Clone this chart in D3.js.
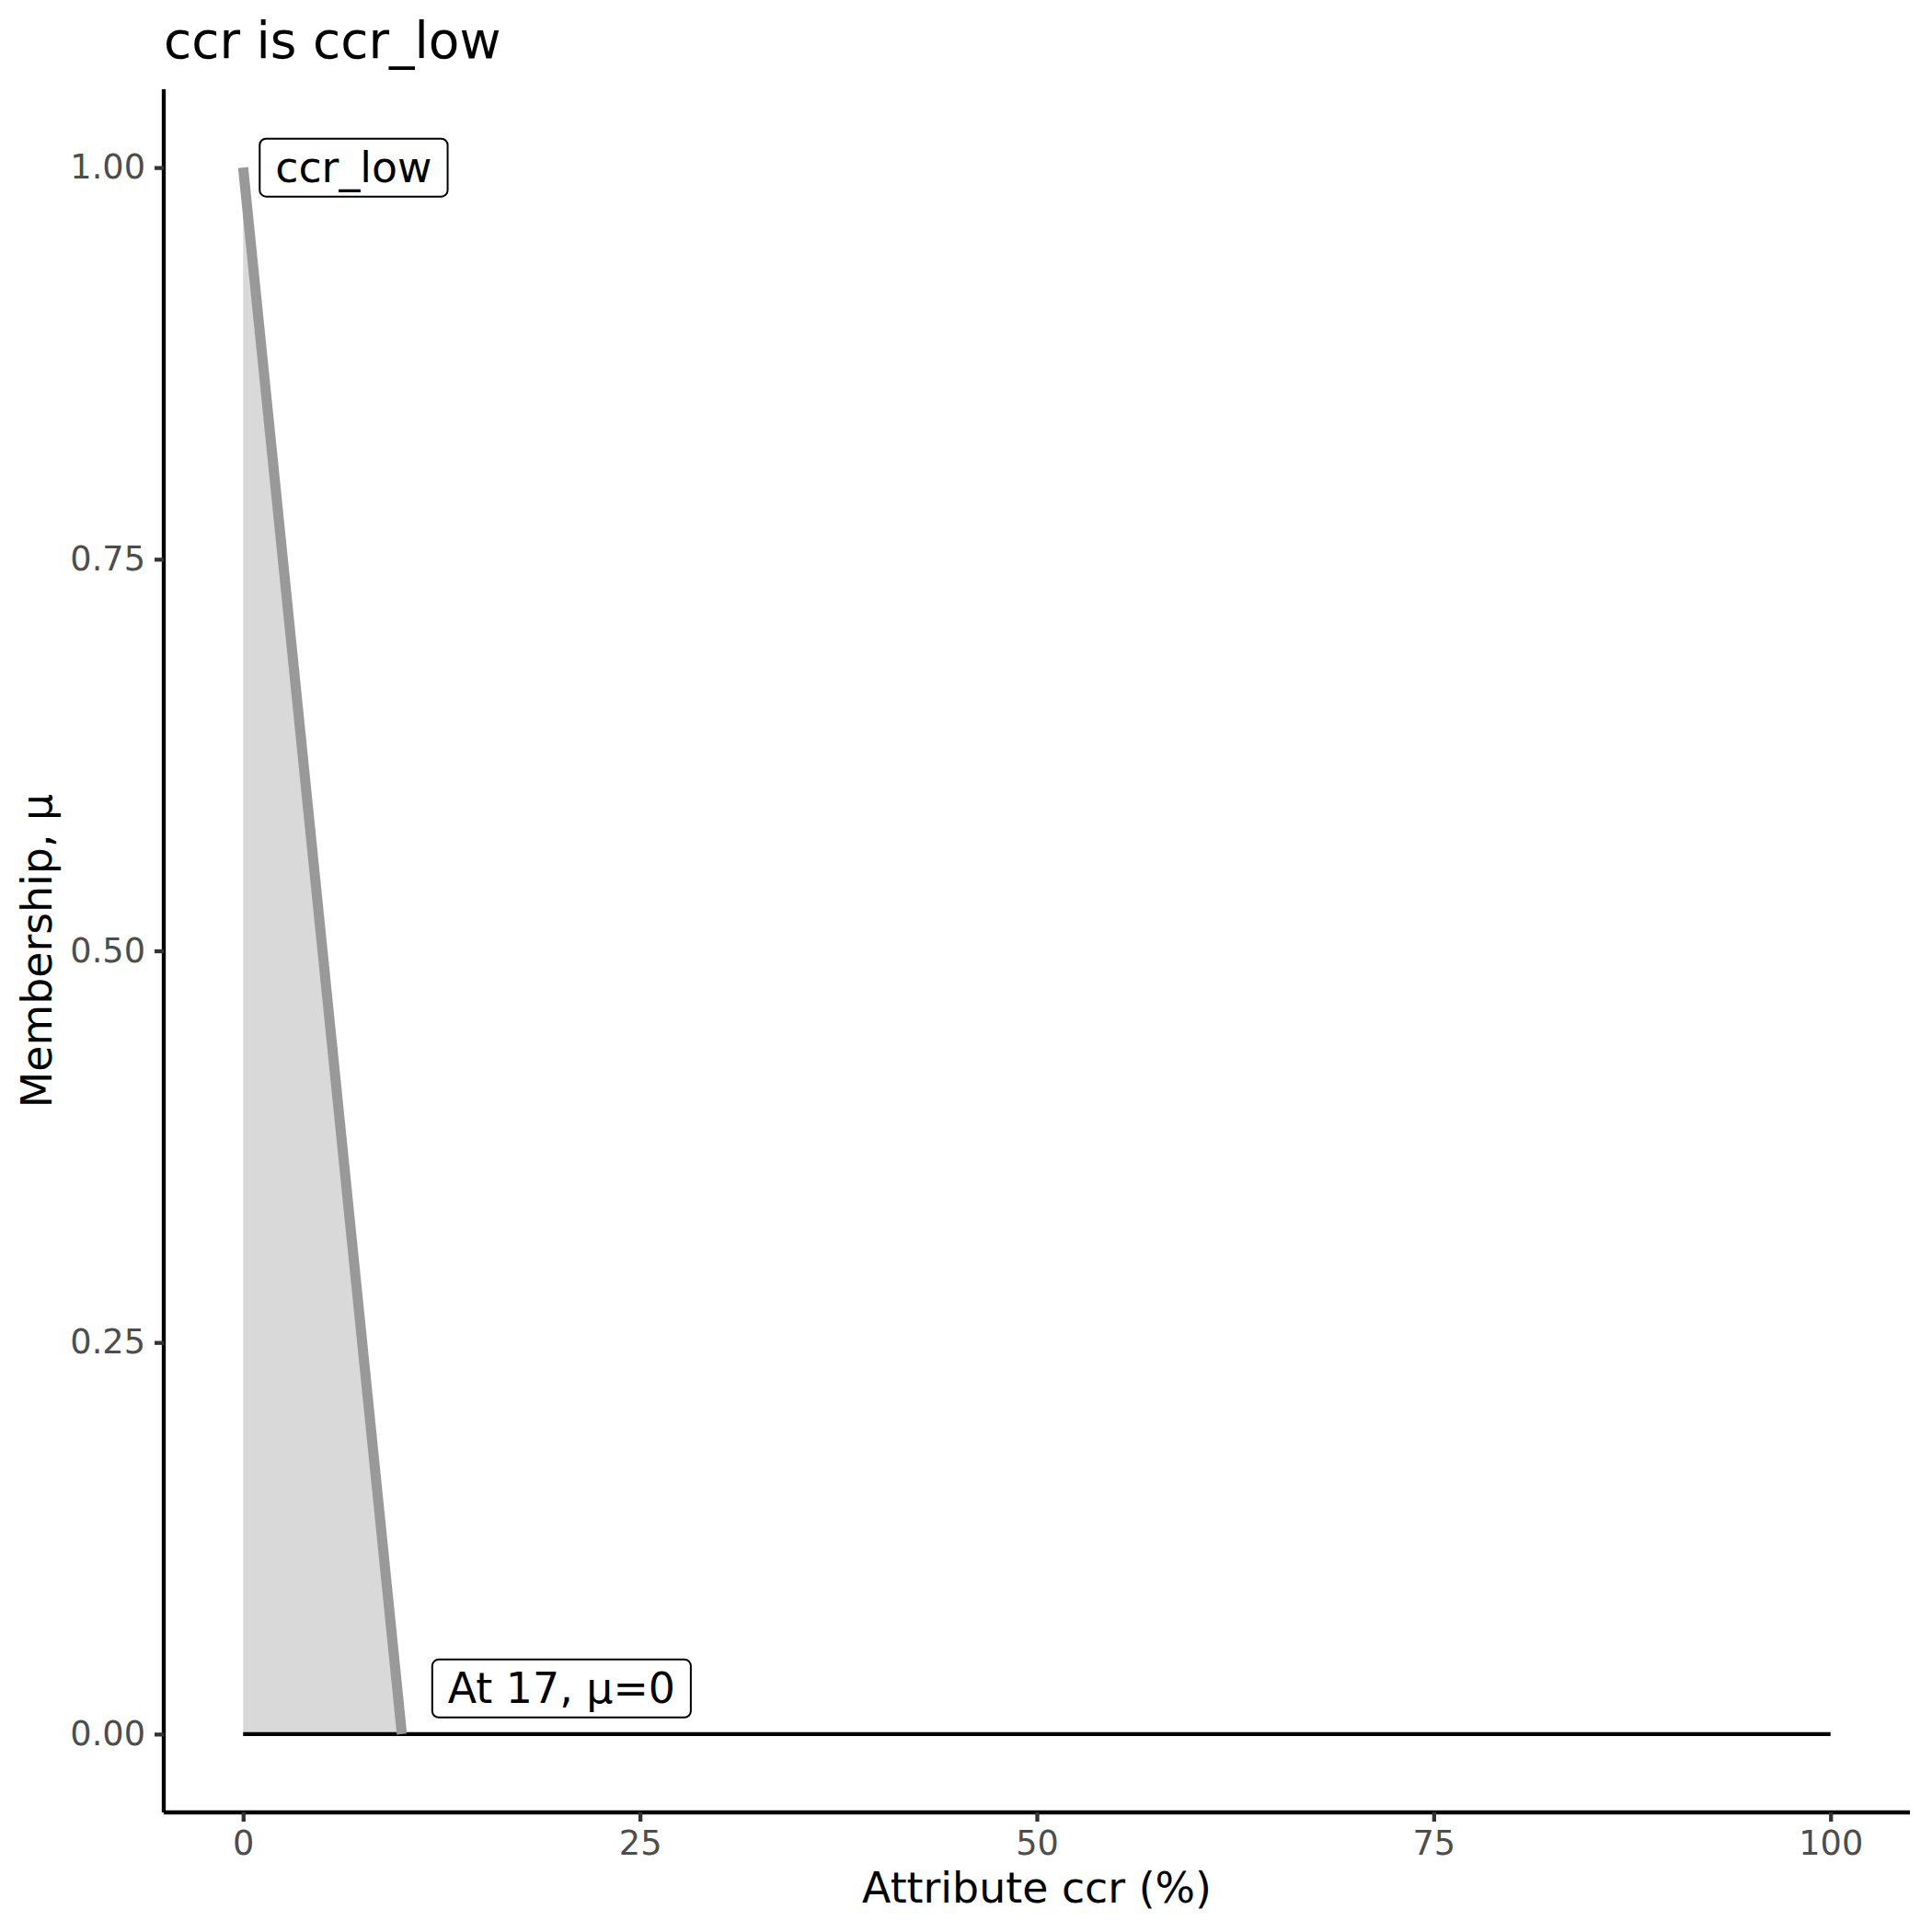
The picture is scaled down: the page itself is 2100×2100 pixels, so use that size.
<!DOCTYPE html>
<html><head><meta charset="utf-8">
<script src="https://cdn.jsdelivr.net/npm/d3@7"></script>
<style>body{margin:0;background:#fff}text{font-family:"DejaVu Sans",sans-serif}</style>
</head><body>
<script>
const titleText = "ccr is ccr_low";
const xLabel = "Attribute ccr (%)";
const yLabel = "Membership, μ";
const xDomain = [0, 100];
const yDomain = [0, 1];
const xTicks = [0, 25, 50, 75, 100];
const yTicks = [0, 0.25, 0.5, 0.75, 1.0];
const memX = [0, 10];
const memY = [1, 0];
const zeroLineX = [0, 100];
const setLabel = "ccr_low";
const zeroLabel = "At 17, μ=0";

const W = 2100, H = 2100;
const svg = d3.select("body").append("svg").attr("width", W).attr("height", H);
const panel = {l: 178, r: 2076, t: 97, b: 1970};
const xPad = (xDomain[1]-xDomain[0])*0.05, yPad = (yDomain[1]-yDomain[0])*0.05;
const x = d3.scaleLinear().domain([xDomain[0]-xPad, xDomain[1]+xPad]).range([panel.l, panel.r]);
const y = d3.scaleLinear().domain([yDomain[0]-yPad, yDomain[1]+yPad]).range([panel.b, panel.t]);

const pts = memX.map((v,i)=>({x:v, y:memY[i]}));
// fill area
const area = d3.area().x(d=>x(d.x)).y0(y(0)).y1(d=>y(d.y));
svg.append("path").datum(pts).attr("d", area).attr("fill", "#d9d9d9");
// zero line
svg.append("line").attr("x1", x(zeroLineX[0])).attr("x2", x(zeroLineX[1]))
  .attr("y1", y(0)).attr("y2", y(0)).attr("stroke", "#000").attr("stroke-width", 4.3);
// membership line
svg.append("path").datum(pts).attr("d", d3.line().x(d=>x(d.x)).y(d=>y(d.y)))
  .attr("fill","none").attr("stroke","#999999").attr("stroke-width", 11);

// axes
const xAxis = svg.append("g").attr("transform", `translate(0,${panel.b})`)
  .call(d3.axisBottom(x).tickValues(xTicks).tickSize(10).tickPadding(10).tickFormat(d3.format("d")));
const yAxis = svg.append("g").attr("transform", `translate(${panel.l},0)`)
  .call(d3.axisLeft(y).tickValues(yTicks).tickSize(10).tickPadding(10).tickFormat(d3.format(".2f")));
[xAxis, yAxis].forEach(g=>{
  g.select(".domain").attr("stroke","#000").attr("stroke-width",4.3);
  g.selectAll(".tick line").attr("stroke","#333").attr("stroke-width",4.3);
  g.selectAll(".tick text").attr("fill","#4D4D4D").attr("font-size",36.7);
});
xAxis.select(".domain").attr("d", `M${panel.l},0H${panel.r}`);
yAxis.select(".domain").attr("d", `M0,${panel.t}V${panel.b}`);

// titles
svg.append("text").attr("x", panel.l).attr("y", 63).attr("font-size", 55).text(titleText);
svg.append("text").attr("x", (panel.l+panel.r)/2).attr("y", 2068).attr("text-anchor","middle")
  .attr("font-size", 45.8).text(xLabel);
svg.append("text").attr("transform", `translate(56,${(panel.t+panel.b)/2}) rotate(-90)`)
  .attr("text-anchor","middle").attr("font-size", 45.8).text(yLabel);

// labels
function label(txt, px, py, vAnchor){
  const g = svg.append("g");
  const t = g.append("text").attr("font-size", 45.8).text(txt);
  const bb = t.node().getBBox();
  const padX = 17;
  const bw = bb.width + 2*padX, bh = 63;
  let top = vAnchor === "middle" ? py - bh/2 : py - bh;
  g.insert("rect", "text").attr("x", px).attr("y", top).attr("width", bw).attr("height", bh)
    .attr("rx", 7).attr("fill","#fff").attr("stroke","#000").attr("stroke-width",2);
  t.attr("x", px+padX).attr("y", top + bh/2).attr("dominant-baseline","central");
}
label(setLabel, x(memX[0]) + 18, y(memY[0]), "middle");
label(zeroLabel, x(memX[1]) + 33, y(0) - 18, "bottom");
</script>
</body></html>
